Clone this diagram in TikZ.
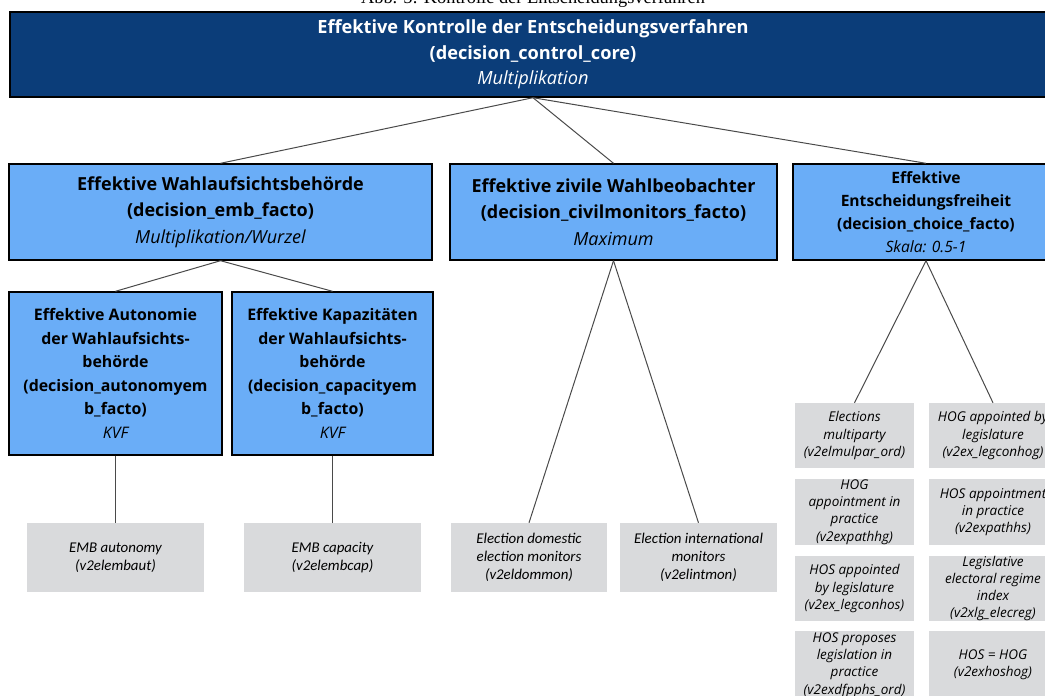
\documentclass[tikz,border=0pt]{standalone}
\usepackage{fontspec}
\setmainfont{Liberation Serif}
\newfontfamily\uifont{Open Sans}
\newfontfamily\cbfont{Carlito}
\usetikzlibrary{positioning}

\definecolor{coreblue}{HTML}{0B3D79}
\definecolor{midblue}{HTML}{6AADF7}
\definecolor{leafgray}{HTML}{D9DADC}
\definecolor{linkgray}{HTML}{4A4A4A}

\tikzset{
  corebox/.style={draw=black, line width=1.4pt, fill=coreblue, text=white,
    inner sep=0pt, align=center, font=\uifont\bfseries\fontsize{18.2}{25.5}\selectfont},
  factbox/.style={draw=black, line width=1.4pt, fill=midblue, text=black,
    inner sep=0pt, align=center, font=\uifont\bfseries\fontsize{18}{26.5}\selectfont},
  smallfact/.style={factbox, font=\uifont\bfseries\fontsize{15.6}{23}\selectfont},
  subfact/.style={factbox, font=\uifont\bfseries\fontsize{15.9}{23.6}\selectfont},
  leafbox/.style={fill=leafgray, inner sep=0pt, align=center,
    font=\cbfont\itshape\fontsize{14.9}{18}\selectfont},
  vdembox/.style={fill=leafgray, inner sep=0pt, align=center,
    font=\uifont\itshape\fontsize{13.5}{17.3}\selectfont},
  link/.style={draw=linkgray, line width=1pt},
}
\newcommand{\op}[1]{{\mdseries\itshape #1}}

\begin{document}
\begin{tikzpicture}[x=1pt, y=-1pt]
  \useasboundingbox (0,0) rectangle (1045,696);

  % caption line above the chart
  \node[anchor=base, font=\fontsize{18.4}{21}\selectfont] (caption) at (533,4)
    {Abb. 5: Kontrolle der Entscheidungsverfahren};

  % top level
  \node[corebox, minimum width=1046pt, minimum height=85pt] (core) at (533,54.5)
    {Effektive Kontrolle der Entscheidungsverfahren\\(decision\_control\_core)\\\op{Multiplikation}};

  % second level
  \node[factbox, minimum width=423pt, minimum height=96pt] (emb) at (220.5,212)
    {Effektive Wahlaufsichtsbehörde\\(decision\_emb\_facto)\\\op{Multiplikation/Wurzel}};
  \node[factbox, minimum width=327pt, minimum height=96pt] (civil) at (613.5,212)
    {Effektive zivile Wahlbeobachter\\(decision\_civilmonitors\_facto)\\\op{Maximum}};
  \node[smallfact, minimum width=266pt, minimum height=96pt] (choice) at (926,212)
    {Effektive\\Entscheidungsfreiheit\\(decision\_choice\_facto)\\\op{Skala: 0.5-1}};

  % third level
  \node[subfact, minimum width=213pt, minimum height=163pt] (auto) at (115.5,373.5)
    {Effektive Autonomie\\der Wahlaufsichts-\\behörde\\(decision\_autonomyem\\b\_facto)\\\op{KVF}};
  \node[subfact, minimum width=201pt, minimum height=163pt] (capa) at (332.5,373.5)
    {Effektive Kapazitäten\\der Wahlaufsichts-\\behörde\\(decision\_capacityem\\b\_facto)\\\op{KVF}};

  % indicators
  \node[leafbox, minimum width=177pt, minimum height=69pt] (embaut) at (115.5,557.5)
    {EMB autonomy\\(v2elembaut)};
  \node[leafbox, minimum width=177pt, minimum height=69pt] (embcap) at (332.5,557.5)
    {EMB capacity\\(v2elembcap)};
  \node[leafbox, minimum width=156pt, minimum height=69pt] (dommon) at (529,557.5)
    {Election domestic\\election monitors\\(v2eldommon)};
  \node[leafbox, minimum width=157pt, minimum height=69pt] (intmon) at (698.5,557.5)
    {Election international\\monitors\\(v2elintmon)};

  \node[vdembox, minimum width=119pt, minimum height=65pt] (mulpar) at (854.5,435.5)
    {Elections\\multiparty\\(v2elmulpar\_ord)};
  \node[vdembox, minimum width=128pt, minimum height=65pt] (conhog) at (993,435.5)
    {HOG appointed by\\legislature\\(v2ex\_legconhog)};
  \node[vdembox, minimum width=119pt, minimum height=66pt] (pathhg) at (854.5,512)
    {HOG\\appointment in\\practice\\(v2expathhg)};
  \node[vdembox, minimum width=128pt, minimum height=66pt] (pathhs) at (993,512)
    {HOS appointment\\in practice\\(v2expathhs)};
  \node[vdembox, minimum width=119pt, minimum height=65pt] (conhos) at (854.5,588.5)
    {HOS appointed\\by legislature\\(v2ex\_legconhos)};
  \node[vdembox, minimum width=128pt, minimum height=65pt] (elecreg) at (993,588.5)
    {Legislative\\electoral regime\\index\\(v2xlg\_elecreg)};
  \node[vdembox, minimum width=119pt, minimum height=68pt] (dfpphs) at (854.5,665)
    {HOS proposes\\legislation in\\practice\\(v2exdfpphs\_ord)};
  \node[vdembox, minimum width=128pt, minimum height=68pt] (hoshog) at (993,665)
    {HOS = HOG\\(v2exhoshog)};

  % connectors
  \draw[link] (core.south) -- (emb.north);
  \draw[link] (core.south) -- (civil.north);
  \draw[link] (core.south) -- (choice.north);
  \draw[link] (emb.south) -- (auto.north);
  \draw[link] (emb.south) -- (capa.north);
  \draw[link] (auto.south) -- (embaut.north);
  \draw[link] (capa.south) -- (embcap.north);
  \draw[link] (civil.south) -- (dommon.north);
  \draw[link] (civil.south) -- (intmon.north);
  \draw[link] (choice.south) -- (mulpar.north);
  \draw[link] (choice.south) -- (conhog.north);
\end{tikzpicture}
\end{document}
